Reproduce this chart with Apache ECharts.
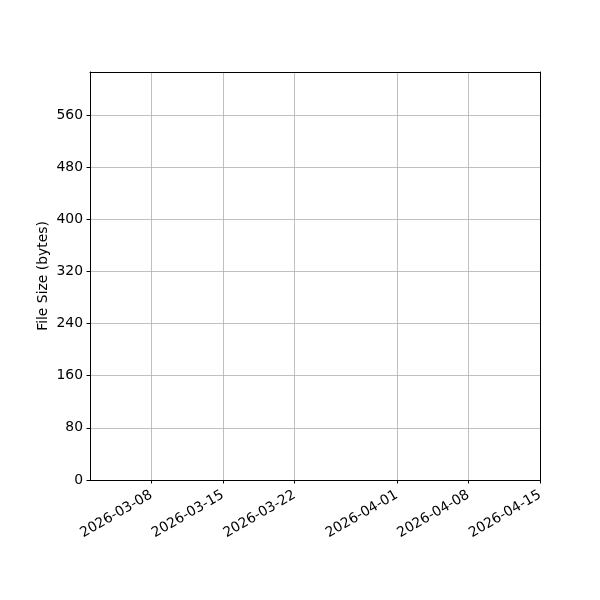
<!DOCTYPE html>
<html>
<head>
<meta charset="utf-8">
<script src="https://cdn.jsdelivr.net/npm/echarts@6/dist/echarts.min.js"></script>
<style>
  html, body { margin: 0; padding: 0; background: #fff; }
  #chart { width: 600px; height: 600px; }
</style>
</head>
<body>
<div id="chart"></div>
<script>
// 数据
var startDate = '2026-03-02';
var endDate = '2026-04-15';
var xTickLabels = ['2026-03-08', '2026-03-15', '2026-03-22', '2026-04-01', '2026-04-08', '2026-04-15'];
var yTickValues = [0, 80, 160, 240, 320, 400, 480, 560];
var yMax = 626;
var fileSizes = []; // 图中没有数据点

// 按天生成类目轴
function dayList(a, b) {
    var res = [];
    var d = new Date(a + 'T00:00:00Z');
    var end = new Date(b + 'T00:00:00Z');
    while (d <= end) {
        res.push(d.toISOString().slice(0, 10));
        d.setUTCDate(d.getUTCDate() + 1);
    }
    return res;
}
var days = dayList(startDate, endDate);

function isTick(index, value) {
    return xTickLabels.indexOf(days[index]) >= 0;
}

var font = 'DejaVu Sans';
var chart = echarts.init(document.getElementById('chart'));

var option = {
    animation: false,
    textStyle: {fontFamily: font},
    grid: {left: 90, right: 60, top: 72, bottom: 120, containLabel: false},
    xAxis: [
        {
            type: 'category',
            data: days,
            boundaryGap: false,
            axisLine: {show: true, lineStyle: {color: '#000', width: 1}},
            axisTick: {show: true, interval: isTick, length: 3.5, lineStyle: {color: '#000'}},
            axisLabel: {
                interval: isTick, rotate: 30, color: '#000',
                fontSize: 13.9, fontFamily: font, margin: 14
            },
            splitLine: {show: true, interval: isTick, lineStyle: {color: '#b0b0b0', width: 0.8}}
        },
        {
            type: 'category',
            data: days,
            boundaryGap: false,
            position: 'top',
            axisLine: {show: true, onZero: false, lineStyle: {color: '#000', width: 1}},
            axisTick: {show: false},
            axisLabel: {show: false},
            splitLine: {show: false}
        }
    ],
    yAxis: [
        {
            type: 'value',
            min: 0,
            max: yMax,
            interval: 80,
            name: 'File Size (bytes)',
            nameLocation: 'middle',
            nameRotate: 90,
            nameGap: 40,
            nameMoveOverlap: false,
            nameTextStyle: {color: '#000', fontSize: 13.9, fontFamily: font},
            axisLine: {show: true, lineStyle: {color: '#000', width: 1}},
            axisTick: {show: true, customValues: yTickValues, length: 3.5, lineStyle: {color: '#000'}},
            axisLabel: {customValues: yTickValues, color: '#000', fontSize: 13.9, fontFamily: font, margin: 7},
            splitLine: {show: true, lineStyle: {color: '#b0b0b0', width: 0.8}}
        },
        {
            type: 'value',
            min: 0,
            max: yMax,
            position: 'right',
            axisLine: {show: true, onZero: false, lineStyle: {color: '#000', width: 1}},
            axisTick: {show: false},
            axisLabel: {show: false},
            splitLine: {show: false}
        }
    ],
    series: [
        {
            name: 'File Size',
            type: 'line',
            data: fileSizes
        }
    ]
};
chart.setOption(option);
</script>
</body>
</html>
